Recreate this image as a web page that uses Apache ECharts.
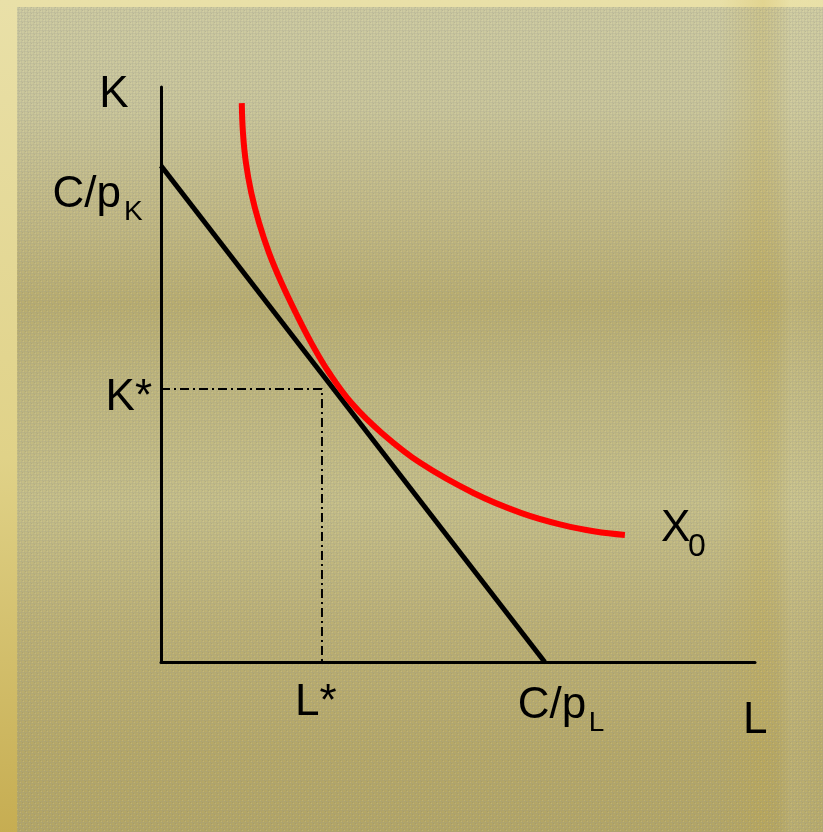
<!DOCTYPE html>
<html>
<head>
<meta charset="utf-8">
<title>Cost minimisation: isocost and isoquant</title>
<script src="https://cdn.jsdelivr.net/npm/echarts@6/dist/echarts.min.js"></script>
<style>
  html, body { margin: 0; padding: 0; background: #c8c294; }
  #chart { width: 823px; height: 832px; }
</style>
</head>
<body>
<div id="chart"></div>
<script>
// Axis ranges (labour L on x, capital K on y)
const L_RANGE = [0, 10];
const K_RANGE = [0, 10];

// Isocost line C = pL*L + pK*K: intercepts C/pK on K and C/pL on L
const isocostL = [0, 6.46];
const isocostK = [8.63, 0];

// Cost-minimising input bundle
const L_STAR = 2.71;
const K_STAR = 4.75;

// Isoquant X0
const isoquantL = [1.36, 1.38, 1.43, 1.52, 1.65, 1.82, 2.03, 2.27, 2.53, 2.83, 3.21, 3.72, 4.37, 5.26, 6.07, 6.77, 7.31, 7.81];
const isoquantK = [9.72, 9.20, 8.68, 8.16, 7.64, 7.11, 6.59, 6.07, 5.55, 5.03, 4.50, 3.98, 3.46, 2.94, 2.59, 2.38, 2.27, 2.21];

// Label texts
const AXIS_K = 'K';
const AXIS_L = 'L';
const LABEL_CPK = ['C/p', 'K'];
const LABEL_CPL = ['C/p', 'L'];
const LABEL_KSTAR = 'K*';
const LABEL_LSTAR = 'L*';
const LABEL_X0 = ['X', '0'];

const FONT = '"Liberation Sans", Arial, Helvetica, sans-serif';

const zip = (a, b) => a.map((v, i) => [v, b[i]]);

// Fine woven texture for the slide panel
function makeTexture() {
  const c = document.createElement('canvas');
  c.width = 6; c.height = 6;
  const g = c.getContext('2d');
  g.fillStyle = 'rgba(150,150,140,0.16)';
  g.fillRect(0, 0, 6, 1);
  g.fillRect(0, 3, 6, 1);
  g.fillRect(0, 0, 1, 6);
  g.fillRect(3, 0, 1, 6);
  g.fillStyle = 'rgba(120,120,110,0.22)';
  g.fillRect(1, 1, 1, 1);
  g.fillRect(4, 4, 1, 1);
  g.fillStyle = 'rgba(240,235,190,0.18)';
  g.fillRect(2, 2, 1, 1);
  g.fillRect(5, 5, 1, 1);
  return c;
}

const chart = echarts.init(document.getElementById('chart'), null, { renderer: 'canvas' });

const backdrop = [
  { type: 'rect', z: -10, silent: true, shape: { x: 0, y: 0, width: 823, height: 832 },
    style: { fill: new echarts.graphic.LinearGradient(0, 0, 0, 1, [
      { offset: 0, color: '#e9e0a8' }, { offset: 0.55, color: '#e0d288' }, { offset: 1, color: '#c6ad52' }]) } },
  { type: 'rect', z: -9, silent: true, shape: { x: 17, y: 7, width: 806, height: 825 },
    style: { fill: new echarts.graphic.LinearGradient(0, 0, 0, 1, [
      { offset: 0, color: '#cdcaa0' },
      { offset: 0.12, color: '#cac69a' },
      { offset: 0.25, color: '#c2b983' },
      { offset: 0.36, color: '#b9ad6e' },
      { offset: 0.46, color: '#bfb67c' },
      { offset: 0.6, color: '#c6bf88' },
      { offset: 0.75, color: '#bcb073' },
      { offset: 0.9, color: '#b6a866' },
      { offset: 1, color: '#b4a664' }]) } },
  { type: 'rect', z: -8, silent: true, shape: { x: 720, y: 0, width: 103, height: 832 },
    style: { fill: new echarts.graphic.LinearGradient(0, 0, 1, 0, [
      { offset: 0, color: 'rgba(200,170,60,0)' },
      { offset: 0.42, color: 'rgba(200,170,60,0.22)' },
      { offset: 0.55, color: 'rgba(200,170,60,0.12)' },
      { offset: 0.68, color: 'rgba(235,228,170,0.14)' },
      { offset: 1, color: 'rgba(235,228,170,0.08)' }]) } },
  { type: 'rect', z: -7, silent: true, shape: { x: 17, y: 7, width: 806, height: 825 },
    style: { fill: { image: makeTexture(), repeat: 'repeat' } } }
];

chart.setOption({
  animation: false,
  backgroundColor: 'transparent',
  grid: { left: 161, top: 87, width: 594, height: 575, containLabel: false },
  xAxis: {
    type: 'value', min: L_RANGE[0], max: L_RANGE[1],
    axisLine: { show: true, onZero: false, lineStyle: { color: '#000', width: 3 } },
    axisTick: { show: false }, axisLabel: { show: false }, splitLine: { show: false }
  },
  yAxis: {
    type: 'value', min: K_RANGE[0], max: K_RANGE[1],
    axisLine: { show: true, onZero: false, lineStyle: { color: '#000', width: 3 } },
    axisTick: { show: false }, axisLabel: { show: false }, splitLine: { show: false }
  },
  series: [
    {
      name: 'optimum guides', type: 'line', z: 2, symbol: 'none', silent: true,
      data: [[0, K_STAR], [L_STAR, K_STAR], [L_STAR, 0]],
      lineStyle: { color: '#000', width: 2, type: [9, 4, 2, 4] }
    },
    {
      name: 'isocost', type: 'line', z: 3, symbol: 'none', silent: true,
      data: zip(isocostL, isocostK),
      lineStyle: { color: '#000', width: 5 }
    },
    {
      name: 'isoquant', type: 'line', z: 4, symbol: 'none', silent: true, smooth: 0.4,
      data: zip(isoquantL, isoquantK),
      lineStyle: { color: '#ff0000', width: 6 }
    }
  ],
  graphic: backdrop
});

// Place the text labels relative to points on the axes
const px = (l, k) => chart.convertToPixel({ gridIndex: 0 }, [l, k]);
function label(text, x, y, size, align) {
  return { type: 'text', z: 20, silent: true, x: x, y: y,
    style: { text: text, font: size + 'px ' + FONT, fill: '#000',
      textAlign: align || 'left', textVerticalAlign: 'middle' } };
}

const topK = px(0, K_RANGE[1]);
const endL = px(L_RANGE[1], 0);
const cpk = px(0, isocostK[0]);
const cpl = px(isocostL[1], 0);
const ks = px(0, K_STAR);
const ls = px(L_STAR, 0);
const xEnd = px(isoquantL[isoquantL.length - 1], isoquantK[isoquantK.length - 1]);

const texts = [
  label(AXIS_K, topK[0] - 47, topK[1] + 8, 44, 'center'),
  label(LABEL_CPK[0], cpk[0] - 40, cpk[1] + 29, 44, 'right'),
  label(LABEL_CPK[1], cpk[0] - 37, cpk[1] + 47, 28, 'left'),
  label(LABEL_KSTAR, ks[0] - 9, ks[1] + 9, 44, 'right'),
  label(LABEL_LSTAR, ls[0] - 27, ls[1] + 41, 44, 'left'),
  label(LABEL_CPL[0], cpl[0] - 27, cpl[1] + 44, 44, 'left'),
  label(LABEL_CPL[1], cpl[0] + 44, cpl[1] + 61, 28, 'left'),
  label(AXIS_L, endL[0] - 12, endL[1] + 59, 44, 'left'),
  label(LABEL_X0[0], xEnd[0] + 36, xEnd[1] - 6, 44, 'left'),
  label(LABEL_X0[1], xEnd[0] + 63, xEnd[1] + 12, 32, 'left')
];

chart.setOption({ graphic: backdrop.concat(texts) }, { replaceMerge: ['graphic'] });
</script>
</body>
</html>
